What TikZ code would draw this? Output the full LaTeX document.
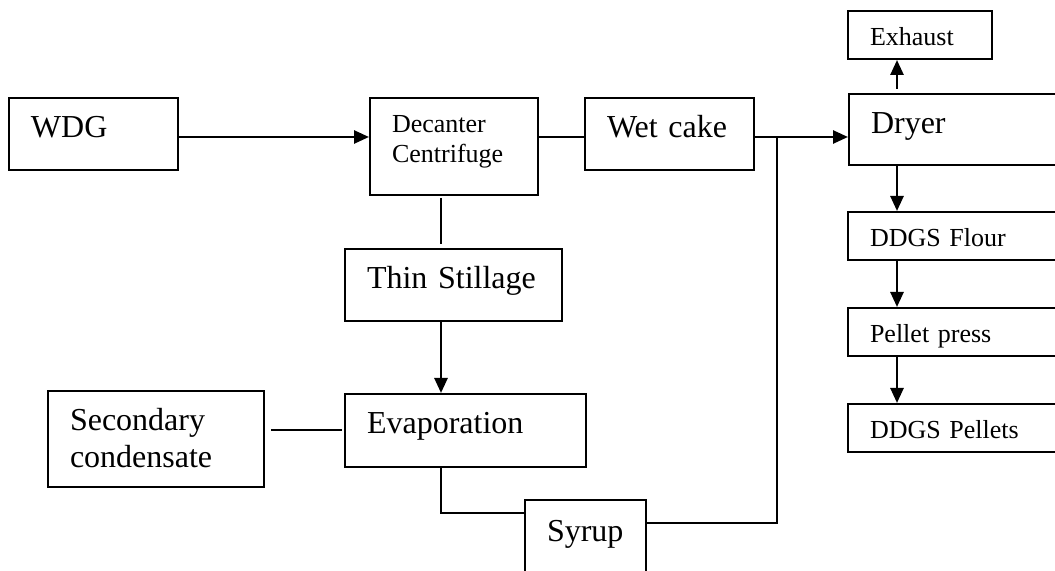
\documentclass[tikz,border=0pt]{standalone}
\usepackage{fontspec}
\setmainfont{Liberation Serif}
\usetikzlibrary{arrows.meta, positioning}

\begin{document}
\begin{tikzpicture}[
    x=0.5pt, y=-0.5pt,
    procbox/.style={
      rectangle, draw=black, line width=1pt, anchor=north west,
      inner xsep=11pt, inner ysep=0pt, align=left,
      font=\fontsize{16}{18.5}\selectfont, text height=20pt
    },
    smallbox/.style={
      procbox, font=\fontsize{13}{15}\selectfont, text height=17.5pt
    },
    link/.style={draw=black, line width=1pt},
    arr/.style={-{Triangle[length=7.5pt, width=6.5pt]}, draw=black, line width=1.3pt}
  ]
    \useasboundingbox (0,0) rectangle (1055,571);

    % guide lines for the connectors
    \coordinate (mainline) at (0,137);
    \coordinate (junction) at (777,137);
    \coordinate (stem) at (441,0);
    \coordinate (col) at (897,0);
    \coordinate (syrupin) at (0,513);
    \coordinate (syrupout) at (0,523);

    % top row
    \node[procbox, text width=62.5pt, text depth=16pt] (wdg) at (8,97) {WDG};
    \node[smallbox, text width=62pt, text depth=31pt] (decanter) at (369,97) {Decanter\\Centrifuge};
    \node[procbox, text width=62.5pt, text depth=16pt] (wetcake) at (584,97) {Wet cake};

    % middle column
    \node[procbox, text width=86.5pt, text depth=16pt] (thinstillage) at (344,248) {Thin Stillage};
    \node[procbox, text width=98.5pt, text depth=16.5pt] (evaporation) at (344,393) {Evaporation};
    \node[procbox, text width=86pt, text depth=28pt] (secondary) at (47,390) {Secondary\\condensate};
    \node[procbox, text width=38.5pt, text height=20.5pt, text depth=19.5pt] (syrup) at (524,499) {Syrup};

    % right column
    \node[smallbox, text width=50pt, text depth=6.5pt] (exhaust) at (847,10) {Exhaust};
    \node[procbox, text width=93pt, text depth=15.5pt] (dryer) at (848,93) {Dryer};
    \node[smallbox, text width=93pt, text depth=6.5pt] (ddgsflour) at (847,211) {DDGS Flour};
    \node[smallbox, text width=93pt, text depth=6.5pt] (pelletpress) at (847,307) {Pellet press};
    \node[smallbox, text width=93pt, text depth=6.5pt] (ddgspellets) at (847,403) {DDGS Pellets};

    % connectors
    \draw[arr] (wdg.east |- mainline) -- (decanter.west |- mainline);
    \draw[link] (decanter.east |- mainline) -- (wetcake.west |- mainline);
    \draw[arr] (wetcake.east |- mainline) -- (dryer.west |- mainline);
    \draw[link] (syrup.east |- syrupout) -| (junction);

    \draw[link, shorten <=1pt, shorten >=2pt] (decanter.south -| stem) -- (thinstillage.north -| stem);
    \draw[arr] (thinstillage.south -| stem) -- (evaporation.north -| stem);
    \draw[link] (evaporation.south -| stem) |- (syrup.west |- syrupin);
    \draw[link, shorten <=3pt, shorten >=1pt] (secondary.east |- evaporation.west) -- (evaporation.west);

    \draw[arr] ([yshift=2pt]dryer.north -| col) -- (exhaust.south -| col);
    \draw[arr] (dryer.south -| col) -- (ddgsflour.north -| col);
    \draw[arr] (ddgsflour.south -| col) -- (pelletpress.north -| col);
    \draw[arr] (pelletpress.south -| col) -- (ddgspellets.north -| col);
  \end{tikzpicture}
\end{document}
